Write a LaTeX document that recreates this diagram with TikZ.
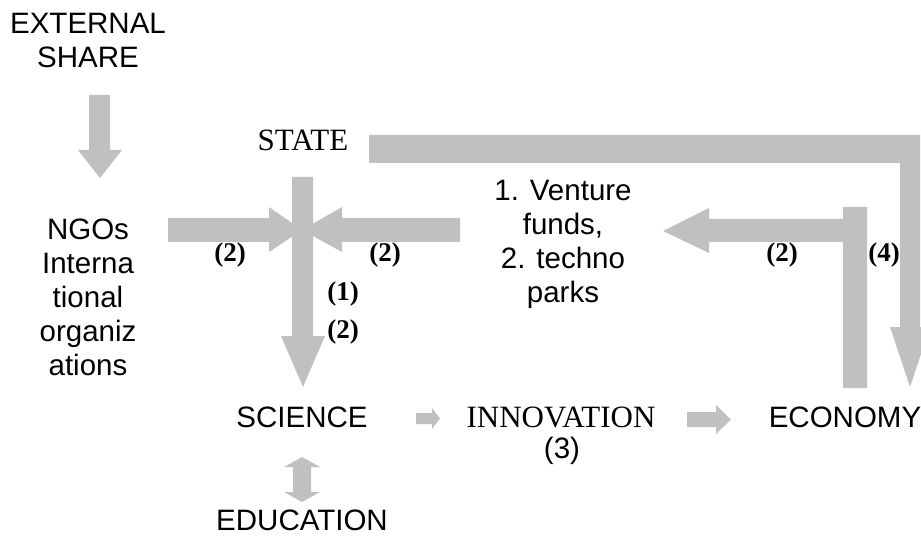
\documentclass[tikz,border=0pt]{standalone}
\usepackage{fontspec}
\setmainfont{Liberation Serif}
\newfontfamily\arialf{Liberation Sans}
\definecolor{ag}{RGB}{192,192,192}
\begin{document}
\begin{tikzpicture}[x=1pt,y=-1pt,
  sans/.style={font=\arialf\fontsize{29.5}{34}\selectfont, align=center, inner sep=0pt},
  serif/.style={font=\fontsize{31}{34}\selectfont, inner sep=0pt},
  lbl/.style={font=\bfseries\fontsize{27}{30}\selectfont, inner sep=0pt},
  blk/.style={fill=ag, draw=none}]
\useasboundingbox (0,0) rectangle (921,540);
% block arrows
\fill[blk] (89,95) -- (110,95) -- (110,150) -- (122,150) -- (100,178) -- (78,150) -- (89,150) -- cycle;
\fill[blk] (168,218) -- (269,218) -- (269,207) -- (302,230) -- (269,252) -- (269,242) -- (168,242) -- cycle;
\fill[blk] (460,218) -- (342,218) -- (342,207) -- (302,230) -- (342,252) -- (342,242) -- (460,242) -- cycle;
\fill[blk] (292,177) -- (313,177) -- (313,336) -- (325,336) -- (303,387) -- (281,336) -- (292,336) -- cycle;
\fill[blk] (369,135) -- (920,135) -- (920,327) -- (930,327) -- (910,387) -- (890,327) -- (900,327) -- (900,163) -- (369,163) -- cycle;
\fill[blk] (843,207) -- (867,207) -- (867,388) -- (843,388) -- (843,242) -- (709,242) -- (709,253) -- (663,231) -- (709,208) -- (709,219) -- (843,219) -- cycle;
\fill[blk] (416,413) -- (432,413) -- (432,408) -- (440,418.5) -- (432,429) -- (432,424) -- (416,424) -- cycle;
\fill[blk] (687,412) -- (716,412) -- (716,405) -- (731,419.5) -- (716,434) -- (716,427) -- (687,427) -- cycle;
\fill[blk] (302,457) -- (320,467) -- (311,467) -- (311,492) -- (320,492) -- (302,502) -- (284,492) -- (293,492) -- (293,467) -- (284,467) -- cycle;
% texts
\node[sans] (ext) at (88,40) {EXTERNAL\\SHARE};
\node[sans] (ngo) at (88,297) {NGOs\\Interna\\tional\\organiz\\ations};
\node[serif] (state) at (303,140) {STATE};
\node[sans] (vf) at (563,244) {1. Venture\\funds,\\2. techno\\parks};
\node[sans] (sci) at (302,417) {SCIENCE};
\node[serif] (inn) at (561,417) {INNOVATION};
\node[sans] (three) at (562,451) {(3)};
\node[sans] (eco) at (845,417) {ECONOMY};
\node[sans] (edu) at (302,520) {EDUCATION};
\node[lbl] (l1) at (230,255) {(2)};
\node[lbl] (l2) at (385,255) {(2)};
\node[lbl] (l3) at (343,294) {(1)};
\node[lbl] (l4) at (343,332) {(2)};
\node[lbl] (l5) at (782,255) {(2)};
\node[lbl] (l6) at (884,255) {(4)};
\end{tikzpicture}
\end{document}
